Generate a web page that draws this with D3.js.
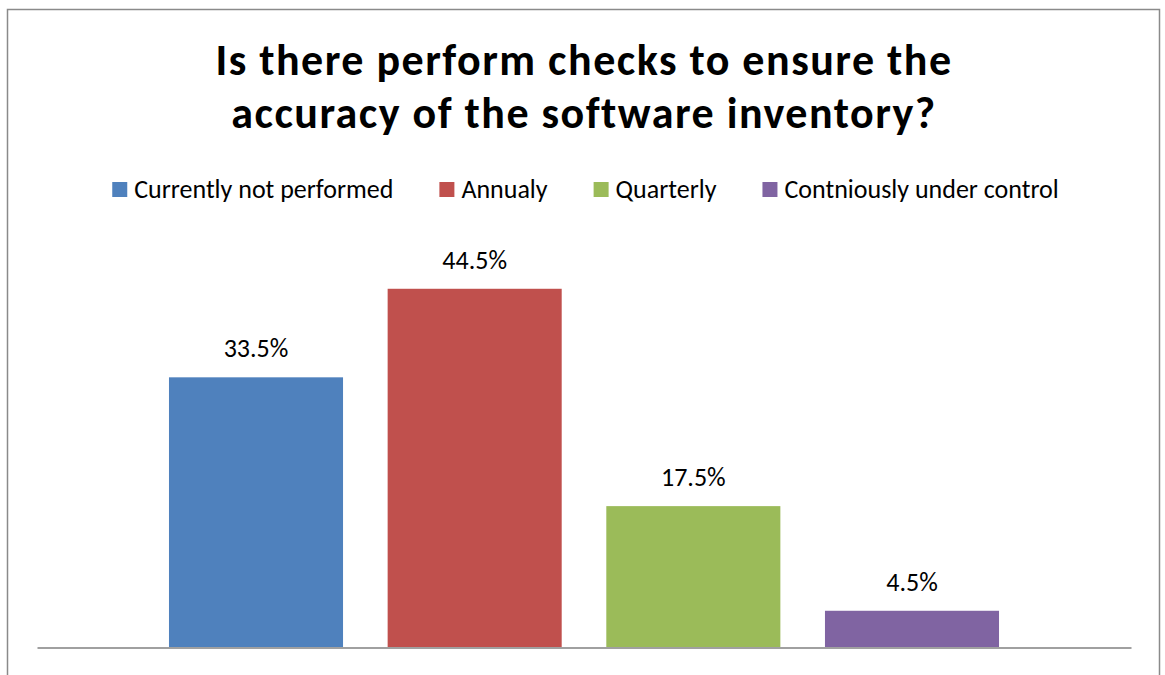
<!DOCTYPE html>
<html>
<head>
<meta charset="utf-8">
<script src="https://cdn.jsdelivr.net/npm/d3@7"></script>
<style>
  html, body { margin: 0; padding: 0; background: #fff; }
  svg { display: block; font-family: Calibri, Carlito, Lato, "Noto Sans", sans-serif; }
</style>
</head>
<body>
<svg id="chart" width="1165" height="675"></svg>
<script>
// Survey answers: how often the software inventory is checked
const seriesNames = ["Currently not performed", "Annualy", "Quarterly", "Contniously under control"];
const seriesValues = [33.5, 44.5, 17.5, 4.5];
const seriesColors = ["#4F81BD", "#C0504D", "#9BBB59", "#8064A2"];
const categories = [""];
const titleLines = ["Is there perform checks to ensure the", "accuracy of the software inventory?"];
const yDomain = [0, 50];

const svg = d3.select("#chart");
const W = 1165, H = 675;

// outer frame (open at the bottom edge)
svg.append("path")
  .attr("d", `M7.5,${H} V9.5 H1159.5 V${H}`)
  .attr("fill", "none")
  .attr("stroke", "#8a8a8a")
  .attr("stroke-width", 1.5);

// title, two lines
const titleG = svg.append("g");
titleLines.forEach((t, i) => {
  titleG.append("text")
    .attr("x", 584)
    .attr("y", 75 + i * 53)
    .attr("text-anchor", "middle")
    .attr("font-weight", "bold")
    .attr("font-size", 44)
    .attr("letter-spacing", 1.5)
    .attr("fill", "#000")
    .text(t);
});

// plot area
const plot = { left: 37, right: 1131, top: 244.5, bottom: 647 };

const x0 = d3.scaleBand()
  .domain(categories)
  .range([plot.left, plot.right])
  .paddingInner(0)
  .paddingOuter(0.159);

const x1 = d3.scaleBand()
  .domain(seriesNames)
  .range([0, x0.bandwidth()])
  .paddingInner(0.204)
  .paddingOuter(0);

const y = d3.scaleLinear().domain(yDomain).range([plot.bottom, plot.top]);

const color = d3.scaleOrdinal().domain(seriesNames).range(seriesColors);

const rows = seriesNames.map((name, i) => ({ name, value: seriesValues[i], cat: categories[0] }));

const g = svg.append("g");
g.selectAll("rect.bar")
  .data(rows)
  .join("rect")
  .attr("class", "bar")
  .attr("x", d => x0(d.cat) + x1(d.name))
  .attr("y", d => y(d.value))
  .attr("width", x1.bandwidth())
  .attr("height", d => y(0) - y(d.value))
  .attr("fill", d => color(d.name));

// value labels
g.selectAll("text.lbl")
  .data(rows)
  .join("text")
  .attr("class", "lbl")
  .attr("x", d => x0(d.cat) + x1(d.name) + x1.bandwidth() / 2)
  .attr("y", d => y(d.value) - 20)
  .attr("text-anchor", "middle")
  .attr("font-size", 26)
  .attr("fill", "#000")
  .text(d => d.value.toFixed(1) + "%");

// category axis (line only)
const axis = svg.append("g")
  .attr("transform", `translate(0,${plot.bottom + 0.5})`)
  .call(d3.axisBottom(x0).tickSize(0).tickSizeOuter(0).tickFormat(""));
axis.select(".domain").attr("stroke", "#a0a0a0").attr("stroke-width", 2);

// legend, centred above the plot
const legendGap = 46;
const legend = svg.append("g");
const items = legend.selectAll("g")
  .data(seriesNames)
  .join("g");
items.append("rect")
  .attr("width", 15).attr("height", 15)
  .attr("y", 182)
  .attr("fill", d => color(d));
items.append("text")
  .attr("x", 22)
  .attr("y", 198)
  .attr("font-size", 26)
  .attr("fill", "#000")
  .text(d => d);

let cursor = 0;
const offsets = [];
items.each(function () {
  const w = d3.select(this).select("text").node().getComputedTextLength();
  offsets.push(cursor);
  cursor += 22 + w + legendGap;
});
const total = cursor - legendGap;
const startX = 585.5 - total / 2;
items.attr("transform", (d, i) => `translate(${startX + offsets[i]},0)`);
</script>
</body>
</html>
